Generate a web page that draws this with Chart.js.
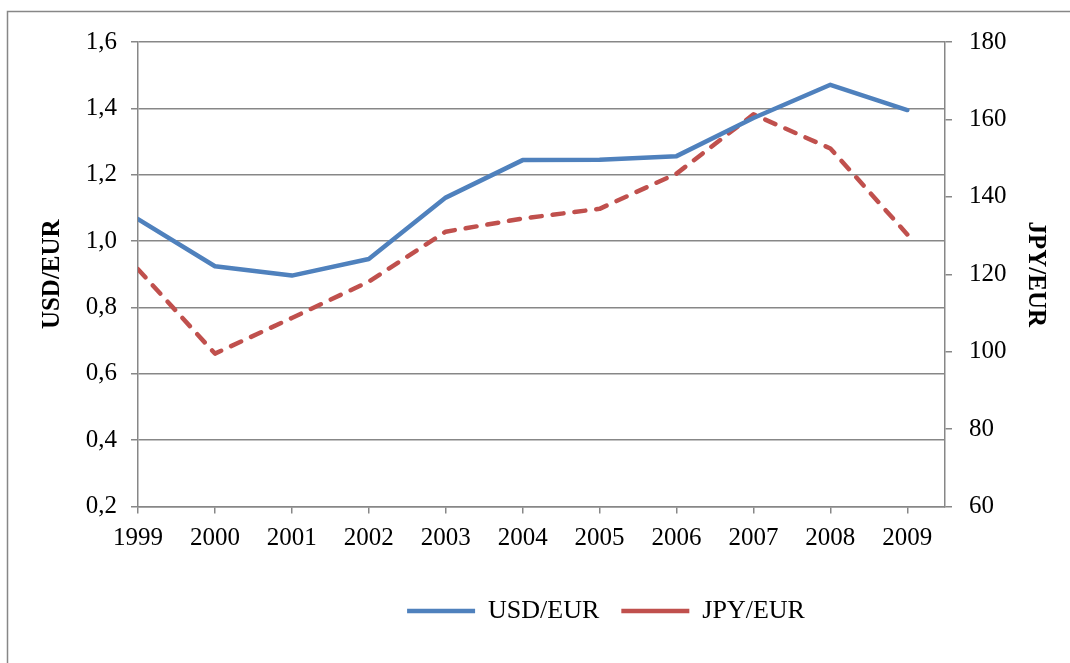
<!DOCTYPE html>
<html><head><meta charset="utf-8">
<script src="https://cdn.jsdelivr.net/npm/chart.js@4.4.0/dist/chart.umd.min.js"></script>
<style>html,body{margin:0;padding:0;background:#fff;overflow:hidden}#wrap{width:1070px;height:663px;position:relative}</style>
</head><body><div id="wrap"><canvas id="c" width="1070" height="663"></canvas></div>
<script>
const years = [1999, 2000, 2001, 2002, 2003, 2004, 2005, 2006, 2007, 2008, 2009];
const usdEur = [1.066, 0.924, 0.896, 0.946, 1.131, 1.244, 1.245, 1.256, 1.371, 1.471, 1.395];
const jpyEur = [121.3, 99.5, 108.7, 118.1, 131.0, 134.4, 136.9, 146.0, 161.3, 152.5, 130.3];
const leftAxis = {min: 0.2, max: 1.6, step: 0.2, title: 'USD/EUR'};
const rightAxis = {min: 60, max: 180, step: 20, title: 'JPY/EUR'};

const FONT = "'Liberation Serif', 'Times New Roman', serif";
const GRAY = '#878787';

const borderPlugin = {
  id: 'outerBorder',
  beforeDraw(chart) {
    const ctx = chart.ctx;
    ctx.save();
    ctx.fillStyle = '#fff';
    ctx.fillRect(0, 0, chart.width, chart.height);
    ctx.strokeStyle = GRAY;
    ctx.lineWidth = 1.5;
    ctx.strokeRect(7.5, 11.5, chart.width + 20, chart.height + 20);
    ctx.restore();
  },
  afterLayout(chart) {
    if (chart.legend) { chart.legend.left += 71; chart.legend.right += 71; }
  }
};

new Chart(document.getElementById('c'), {
  type: 'line',
  data: {
    datasets: [
      {
        label: 'USD/EUR',
        data: years.map((y, i) => ({x: y, y: usdEur[i]})),
        borderColor: '#4F81BD', backgroundColor: '#4F81BD',
        borderWidth: 4.5, borderCapStyle: 'round', borderJoinStyle: 'round',
        pointRadius: 0, tension: 0, yAxisID: 'y'
      },
      {
        label: 'JPY/EUR',
        data: years.map((y, i) => ({x: y, y: jpyEur[i]})),
        borderColor: '#C0504D', backgroundColor: '#C0504D',
        borderWidth: 4.5, borderDash: [11, 11], borderCapStyle: 'round', borderJoinStyle: 'round',
        pointRadius: 0, tension: 0, yAxisID: 'y1'
      }
    ]
  },
  options: {
    responsive: false, animation: false,
    layout: {padding: {left: 0, right: 0, top: 42, bottom: 29}},
    plugins: {
      tooltip: {enabled: false},
      legend: {
        position: 'bottom',
        labels: {
          usePointStyle: true, pointStyle: 'line', pointStyleWidth: 68,
          padding: 22, color: '#000',
          font: {family: FONT, size: 26}
        }
      }
    },
    scales: {
      x: {
        type: 'linear', min: 1999, max: 2009.49,
        afterFit(s) { s.height = 69.5; },
        ticks: {stepSize: 1, includeBounds: false, padding: 10, color: '#000', maxRotation: 0,
          font: {family: FONT, size: 25}, callback: v => String(v)},
        grid: {drawOnChartArea: false, drawTicks: true, tickLength: 7, color: GRAY, lineWidth: 1.5},
        border: {display: true, color: GRAY, width: 1.5}
      },
      y: {
        position: 'left', min: leftAxis.min, max: leftAxis.max,
        afterFit(s) { s.width = 138; },
        ticks: {stepSize: leftAxis.step, padding: 14, color: '#000',
          font: {family: FONT, size: 25},
          callback: v => Number(v).toFixed(1).replace('.', ',')},
        grid: {color: GRAY, lineWidth: 1.5, tickLength: 7},
        border: {display: true, color: GRAY, width: 1.5},
        title: {display: true, text: leftAxis.title, color: '#000',
          font: {family: FONT, size: 25, weight: 'bold'}, padding: {top: 38, bottom: 0}}
      },
      y1: {
        position: 'right', min: rightAxis.min, max: rightAxis.max,
        afterFit(s) { s.width = 125; },
        ticks: {stepSize: rightAxis.step, padding: 17, color: '#000',
          font: {family: FONT, size: 25}},
        grid: {drawOnChartArea: false, color: GRAY, lineWidth: 1.5, tickLength: 7},
        border: {display: true, color: GRAY, width: 1.5},
        title: {display: true, text: rightAxis.title, color: '#000',
          font: {family: FONT, size: 25, weight: 'bold'}, padding: {top: 20, bottom: 0}}
      }
    }
  },
  plugins: [borderPlugin]
});
</script></body></html>
